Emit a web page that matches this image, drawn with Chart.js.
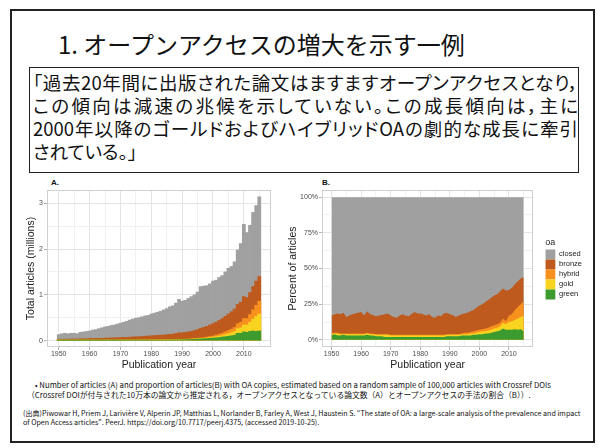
<!DOCTYPE html>
<html lang="ja">
<head>
<meta charset="utf-8">
<script src="https://cdn.jsdelivr.net/npm/chart.js@4.4.1/dist/chart.umd.min.js"></script>
<style>
  html, body { margin: 0; padding: 0; background: #fff; }
  body { width: 598px; height: 448px; position: relative; overflow: hidden;
         font-family: "Noto Sans CJK JP", sans-serif; color: #111; }
  .frame { position: absolute; left: 10px; top: 9px; width: 581px; height: 430px; border: 2px solid #222; }
  .title { position: absolute; left: 58px; top: 32px; font-size: 24px; line-height: 24px; white-space: nowrap; }
  .quote { position: absolute; left: 29px; top: 67px; width: 548px; height: 104px; border: 1px solid #222; }
  .quote div { position: absolute; left: 3px; width: 545px; font-size: 18.5px; line-height: 23px;
               white-space: nowrap; font-feature-settings: "palt"; }
  .quote .j { text-align: justify; text-align-last: justify; }
  .panel-label { position: absolute; font-family: "Liberation Sans", sans-serif; font-weight: bold; font-size: 8px; }
  .note { position: absolute; white-space: nowrap; line-height: 1; }
  canvas { position: absolute; }
</style>
</head>
<body>
<div class="frame"></div>
<div class="title">1. オープンアクセスの増大を示す一例</div>
<div class="quote">
  <div class="j" style="top:2.5px">「過去20年間に出版された論文はますますオープンアクセスとなり，</div>
  <div class="j" style="top:25.5px">この傾向は減速の兆候を示していない。この成長傾向は，主に</div>
  <div class="j" style="top:48.5px">2000年以降のゴールドおよびハイブリッドOAの劇的な成長に牽引</div>
  <div style="top:71.5px">されている。」</div>
</div>
<div class="panel-label" style="left:51px; top:178px">A.</div>
<div class="panel-label" style="left:322px; top:178px">B.</div>
<canvas id="chartA" width="270" height="200" style="left:20px; top:175px"></canvas>
<canvas id="chartB" width="318" height="200" style="left:280px; top:175px"></canvas>
<div class="note" style="left:35px; top:381px; font-size:7.75px">• Number of articles (A) and proportion of articles(B) with OA copies, estimated based on a random sample of 100,000 articles with Crossref DOIs</div>
<div class="note" style="left:27px; top:391px; font-size:7.8px">（Crossref DOIが付与された10万本の論文から推定される，オープンアクセスとなっている論文数（A）とオープンアクセスの手法の割合（B））.</div>
<div class="note" style="left:23px; top:409.5px; font-size:7.1px">(出典)Piwowar H, Priem J, Larivière V, Alperin JP, Matthias L, Norlander B, Farley A, West J, Haustein S. “The state of OA: a large-scale analysis of the prevalence and impact</div>
<div class="note" style="left:23px; top:418.5px; font-size:7.1px">of Open Access articles”. PeerJ. https://doi.org/10.7717/peerj.4375, (accessed 2019-10-25).</div>

<script>
// publication years
const years = [
  1950, 1951, 1952, 1953, 1954, 1955, 1956, 1957, 1958, 1959,
  1960, 1961, 1962, 1963, 1964, 1965, 1966, 1967, 1968, 1969,
  1970, 1971, 1972, 1973, 1974, 1975, 1976, 1977, 1978, 1979,
  1980, 1981, 1982, 1983, 1984, 1985, 1986, 1987, 1988, 1989,
  1990, 1991, 1992, 1993, 1994, 1995, 1996, 1997, 1998, 1999,
  2000, 2001, 2002, 2003, 2004, 2005, 2006, 2007, 2008, 2009,
  2010, 2011, 2012, 2013, 2014, 2015
];

// A: top edge of each band, millions of articles (closed = total)
const closedA = [
  0.13, 0.15, 0.16, 0.15, 0.16, 0.16, 0.15, 0.18, 0.19, 0.20,
  0.21, 0.23, 0.24, 0.26, 0.28, 0.30, 0.31, 0.33, 0.34, 0.36,
  0.38, 0.40, 0.42, 0.45, 0.47, 0.49, 0.50, 0.52, 0.54, 0.55,
  0.58, 0.60, 0.62, 0.64, 0.67, 0.70, 0.74, 0.76, 0.82, 0.90,
  0.86, 0.88, 0.92, 0.96, 1.00, 1.06, 1.18, 1.19, 1.20, 1.24,
  1.30, 1.32, 1.38, 1.42, 1.50, 1.58, 1.62, 1.72, 1.98, 2.12,
  2.54, 2.36, 2.52, 2.80, 2.95, 3.14
];
const bronzeA = [
  0.03, 0.03, 0.03, 0.03, 0.035, 0.035, 0.035, 0.04, 0.04, 0.04,
  0.045, 0.045, 0.05, 0.05, 0.05, 0.055, 0.055, 0.06, 0.06, 0.065,
  0.065, 0.07, 0.07, 0.075, 0.08, 0.085, 0.085, 0.09, 0.095, 0.10,
  0.105, 0.11, 0.115, 0.12, 0.12, 0.13, 0.135, 0.14, 0.155, 0.17,
  0.17, 0.18, 0.19, 0.20, 0.22, 0.24, 0.27, 0.29, 0.31, 0.34,
  0.37, 0.40, 0.44, 0.48, 0.53, 0.58, 0.63, 0.69, 0.79, 0.84,
  0.96, 0.94, 1.05, 1.18, 1.30, 1.40
];
const hybridA = [
  0.01, 0.01, 0.01, 0.01, 0.01, 0.01, 0.01, 0.01, 0.01, 0.01,
  0.012, 0.012, 0.012, 0.012, 0.012, 0.012, 0.012, 0.012, 0.012, 0.012,
  0.014, 0.014, 0.014, 0.014, 0.014, 0.014, 0.014, 0.014, 0.014, 0.014,
  0.016, 0.016, 0.017, 0.018, 0.018, 0.019, 0.02, 0.021, 0.023, 0.026,
  0.028, 0.03, 0.033, 0.037, 0.042, 0.05, 0.058, 0.066, 0.076, 0.087,
  0.10, 0.12, 0.14, 0.16, 0.19, 0.22, 0.25, 0.29, 0.37, 0.40,
  0.48, 0.48, 0.57, 0.67, 0.77, 0.86
];
const goldA = [
  0.009, 0.009, 0.009, 0.009, 0.009, 0.009, 0.009, 0.009, 0.009, 0.009,
  0.011, 0.011, 0.011, 0.011, 0.011, 0.011, 0.011, 0.011, 0.011, 0.011,
  0.012, 0.012, 0.012, 0.012, 0.012, 0.012, 0.012, 0.012, 0.012, 0.012,
  0.014, 0.014, 0.015, 0.015, 0.016, 0.016, 0.017, 0.018, 0.019, 0.022,
  0.024, 0.026, 0.028, 0.031, 0.035, 0.04, 0.045, 0.05, 0.057, 0.064,
  0.075, 0.085, 0.097, 0.11, 0.13, 0.15, 0.17, 0.20, 0.26, 0.28,
  0.34, 0.34, 0.40, 0.47, 0.53, 0.58
];
const greenA = [
  0.007, 0.007, 0.007, 0.007, 0.007, 0.007, 0.007, 0.007, 0.007, 0.007,
  0.008, 0.008, 0.008, 0.008, 0.008, 0.008, 0.008, 0.008, 0.008, 0.008,
  0.009, 0.009, 0.009, 0.009, 0.009, 0.009, 0.009, 0.009, 0.009, 0.009,
  0.01, 0.01, 0.011, 0.011, 0.012, 0.012, 0.013, 0.013, 0.014, 0.016,
  0.018, 0.02, 0.022, 0.025, 0.028, 0.032, 0.036, 0.04, 0.045, 0.05,
  0.055, 0.06, 0.068, 0.076, 0.085, 0.095, 0.105, 0.12, 0.16, 0.16,
  0.19, 0.18, 0.20, 0.21, 0.20, 0.21
];

// B: top edge of each band, percent of articles
const closedB = [
  100, 100, 100, 100, 100, 100, 100, 100, 100, 100,
  100, 100, 100, 100, 100, 100, 100, 100, 100, 100,
  100, 100, 100, 100, 100, 100, 100, 100, 100, 100,
  100, 100, 100, 100, 100, 100, 100, 100, 100, 100,
  100, 100, 100, 100, 100, 100, 100, 100, 100, 100,
  100, 100, 100, 100, 100, 100, 100, 100, 100, 100,
  100, 100, 100, 100, 100, 100
];
const bronzeB = [
  17, 18, 18.5, 18, 19, 16, 17, 18, 18.5, 19,
  19.5, 17, 20, 18, 17.5, 16.5, 17, 17.5, 18, 18.5,
  17, 16, 15.5, 17, 18, 17, 16.5, 18, 19.5, 18.5,
  18.5, 18, 17, 18, 16, 15.5, 17, 16.5, 18.5, 19,
  18, 17.5, 16, 17, 18, 18.5, 19, 20, 21, 22.5,
  24, 25, 26.5, 28, 29.5, 31, 32, 34, 36, 34.5,
  35, 36.5, 39, 41, 43, 44
];
const hybridB = [
  5, 5, 5, 4.5, 4.5, 4.5, 4.5, 4.5, 4.5, 4.5,
  4.5, 4.5, 5, 4.5, 4.5, 4, 4, 4, 4, 4,
  3.5, 3.5, 3.5, 3.5, 3.5, 3.5, 3.5, 3.5, 3.5, 3.5,
  3.5, 3.5, 3.5, 3.5, 3.5, 3.5, 3.5, 3.5, 3.5, 4,
  4, 4, 4, 4, 4.5, 5, 5, 5.5, 6, 6.5,
  7, 7.5, 8, 8.5, 9.5, 10, 11, 12, 15, 13,
  17, 18, 21, 23, 25, 27
];
const goldB = [
  4, 4.5, 4.5, 4, 4, 4, 4, 4, 4, 4,
  4, 4, 4.5, 4, 4, 3.5, 3.5, 3.5, 3.5, 3.5,
  3, 3, 3, 3, 3, 3, 3, 3, 3, 3,
  3, 3, 3, 3, 3, 3, 3, 3, 3, 3.5,
  3.5, 3.5, 3.5, 3.5, 4, 4, 4, 4.5, 4.5, 5,
  5.5, 6, 6, 6.5, 7, 8, 8.5, 9.5, 12, 11,
  12.5, 13, 14, 15, 16, 17
];
const greenB = [
  3, 4, 3, 3, 3.5, 3, 3, 3, 3, 3,
  3, 3, 3.5, 3, 3, 2.5, 2.5, 2.5, 2, 2,
  2, 2, 2, 2, 2, 2, 2, 2, 2, 2,
  2, 2, 2, 2, 2, 2, 2, 2, 2, 2.5,
  2.5, 2.5, 2.5, 2.5, 3, 3, 3, 3, 3.5, 3.5,
  4, 4, 4.5, 4.5, 5, 5.5, 6, 6.5, 8, 7,
  7, 7, 7.5, 7, 7.5, 6
];

const oaNames = ['green', 'gold', 'hybrid', 'bronze', 'closed'];
const oaColors = ['#3b9b2f', '#f8d420', '#f8901d', '#be5a1d', '#a0a0a0'];

// grid / tick positions
const xGridTicks = [1950, 1955, 1960, 1965, 1970, 1975, 1980, 1985, 1990, 1995, 2000, 2005, 2010, 2015];
const yGridTicksA = [0, 0.5, 1, 1.5, 2, 2.5, 3];
const yGridTicksB = [0, 12.5, 25, 37.5, 50, 62.5, 75, 87.5, 100];

Chart.defaults.font.family = '"Liberation Sans", Arial, sans-serif';
Chart.defaults.animation = false;

const panelBorder = {
    id: 'panelBorder',
    afterDatasetsDraw(chart) {
        const a = chart.chartArea, c = chart.ctx;
        c.save();
        c.strokeStyle = '#cfcfcf';
        c.lineWidth = 1;
        c.strokeRect(Math.round(a.left) + 0.5, Math.round(a.top) + 0.5,
            Math.round(a.right - a.left) - 1, Math.round(a.bottom - a.top) - 1);
        c.restore();
    }
};

function xAxis(min, max) {
    return {
        type: 'linear', position: 'bottom', min: min, max: max, offset: false,
        afterBuildTicks: s => { s.ticks = xGridTicks.map(v => ({ value: v })); },
        grid: {
            offset: false, tickLength: 3,
            color: ctx => ctx.tick && ctx.tick.value % 10 === 0 ? '#e4e4e4' : '#f0f0f0',
            tickColor: ctx => ctx.tick && ctx.tick.value % 10 === 0 ? '#b3b3b3' : 'rgba(0,0,0,0)'
        },
        border: { display: false },
        ticks: {
            callback: v => v % 10 === 0 ? String(v) : '',
            font: { size: 7 }, color: '#4d4d4d', padding: 0, maxRotation: 0, autoSkip: false
        },
        title: { display: true, text: 'Publication year', font: { size: 10.5 }, color: '#222', padding: { top: 0, bottom: 4 } }
    };
}

function yAxis(min, max, gridTicks, isMajor, label, width, titleText, titlePad) {
    return {
        type: 'linear', position: 'left', min: min, max: max,
        afterBuildTicks: s => { s.ticks = gridTicks.map(v => ({ value: v })); },
        afterFit: s => { s.width = width; },
        grid: {
            tickLength: 3,
            color: ctx => ctx.tick && isMajor(ctx.tick.value) ? '#e4e4e4' : '#f0f0f0',
            tickColor: ctx => ctx.tick && isMajor(ctx.tick.value) ? '#b3b3b3' : 'rgba(0,0,0,0)'
        },
        border: { display: false },
        ticks: {
            callback: v => isMajor(v) ? label(v) : '',
            font: { size: 7 }, color: '#4d4d4d', padding: 1, autoSkip: false
        },
        title: { display: true, text: titleText, font: { size: 10.5 }, color: '#222', padding: { top: titlePad, bottom: 0 } }
    };
}

// ── A: number of articles (stepped bars, overlapping cumulative tops) ──
const topsA = [greenA, goldA, hybridA, bronzeA, closedA];
new Chart(document.getElementById('chartA'), {
    type: 'bar',
    data: {
        datasets: topsA.map((arr, i) => ({
            label: oaNames[i],
            data: years.map((y, j) => ({ x: y, y: arr[j] })),
            backgroundColor: oaColors[i],
            borderWidth: 0,
            grouped: false,
            barPercentage: 1,
            categoryPercentage: 1
        }))
    },
    options: {
        responsive: false, events: [],
        layout: { padding: { left: 2, right: 19, top: 15, bottom: 0 } },
        plugins: { legend: { display: false }, tooltip: { enabled: false } },
        scales: {
            x: xAxis(1946.2, 2018.8),
            y: yAxis(-0.14, 3.29, yGridTicksA, v => Number.isInteger(v), v => String(v), 25, 'Total articles (millions)', 3)
        }
    },
    plugins: [panelBorder]
});

// ── B: percent of articles (stacked areas drawn as overlapping fills) ──
const topsB = [greenB, goldB, hybridB, bronzeB, closedB];
new Chart(document.getElementById('chartB'), {
    type: 'line',
    data: {
        datasets: topsB.map((arr, i) => ({
            label: oaNames[i],
            data: years.map((y, j) => ({ x: y, y: arr[j] })),
            backgroundColor: oaColors[i],
            borderColor: 'rgba(0,0,0,0)',
            borderWidth: 0,
            pointRadius: 0,
            tension: 0,
            fill: 'origin'
        }))
    },
    options: {
        responsive: false, events: [],
        layout: { padding: { left: 2, right: 6, top: 15, bottom: 0 } },
        plugins: {
            tooltip: { enabled: false },
            legend: {
                position: 'right', align: 'center', reverse: true, fullSize: false,
                title: { display: true, text: 'oa', position: 'start', font: { size: 9 }, color: '#222', padding: { top: 0, bottom: 1 } },
                labels: { boxWidth: 10, boxHeight: 10, padding: 0, font: { size: 7.5 }, color: '#222' }
            }
        },
        scales: {
            x: xAxis(1946.75, 2018.25),
            y: yAxis(-5, 105, yGridTicksB, v => v % 25 === 0, v => v + '%', 40, 'Percent of articles', 5),
            gap: {
                position: 'right', display: true, min: 0, max: 1,
                grid: { display: false, drawTicks: false }, border: { display: false },
                ticks: { display: false }, afterFit: s => { s.width = 12; }
            }
        }
    },
    plugins: [panelBorder]
});
</script>
</body>
</html>
